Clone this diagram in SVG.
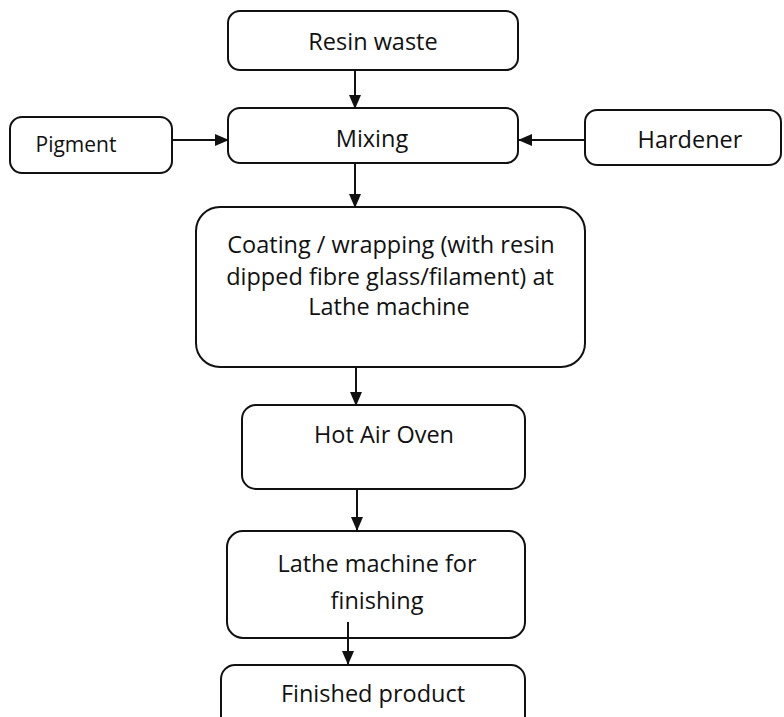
<svg xmlns="http://www.w3.org/2000/svg" width="784" height="717" viewBox="0 0 784 717">
<defs>
<marker id="ah" markerWidth="14" markerHeight="14" refX="13" refY="7" orient="auto" markerUnits="userSpaceOnUse">
<path d="M0,1 L14,7 L0,13 Z" fill="#111"/>
</marker>
<style>
.box{fill:#fff;stroke:#111;stroke-width:2}
.t{font-family:"Open Sans","Noto Sans",sans-serif;font-size:23.5px;fill:#111;text-anchor:middle}
.c{stroke:#111;stroke-width:2;fill:none;marker-end:url(#ah)}
</style>
</defs>
<rect width="784" height="717" fill="#fff"/>
<g id="resin-waste">
<rect class="box" x="228" y="11" width="290" height="59" rx="12"/>
<text class="t" x="373" y="50">Resin waste</text>
</g>
<g id="pigment">
<rect class="box" x="10" y="117" width="162" height="56" rx="12"/>
<text class="t" x="76" y="152" style="font-size:21px">Pigment</text>
</g>
<g id="mixing">
<rect class="box" x="228" y="108" width="290" height="55" rx="12"/>
<text class="t" x="372" y="147">Mixing</text>
</g>
<g id="hardener">
<rect class="box" x="585" y="110" width="196" height="55" rx="12"/>
<text class="t" x="690" y="148">Hardener</text>
</g>
<g id="coating">
<rect class="box" x="196" y="207" width="389" height="160" rx="24"/>
<text class="t" x="391" y="253">Coating / wrapping (with resin</text>
<text class="t" x="390" y="285">dipped fibre glass/filament) at</text>
<text class="t" x="389" y="315">Lathe machine</text>
</g>
<g id="hot-air-oven">
<rect class="box" x="242" y="405" width="283" height="84" rx="14"/>
<text class="t" x="384" y="443">Hot Air Oven</text>
</g>
<g id="lathe-finishing">
<rect class="box" x="227" y="531" width="298" height="107" rx="16"/>
<text class="t" x="377" y="572">Lathe machine for</text>
<text class="t" x="377" y="609">finishing</text>
</g>
<g id="finished-product">
<rect class="box" x="221" y="665" width="304" height="70" rx="14"/>
<text class="t" x="373" y="702">Finished product</text>
</g>
<g id="connectors">
<line class="c" x1="355" y1="71" x2="355" y2="108"/>
<line class="c" x1="173" y1="140" x2="228" y2="140"/>
<line class="c" x1="584" y1="140" x2="519" y2="140"/>
<line class="c" x1="355" y1="164" x2="355" y2="207"/>
<line class="c" x1="356" y1="368" x2="356" y2="405"/>
<line class="c" x1="357" y1="490" x2="357" y2="530"/>
<line class="c" x1="348" y1="622" x2="348" y2="664"/>
</g>
</svg>
